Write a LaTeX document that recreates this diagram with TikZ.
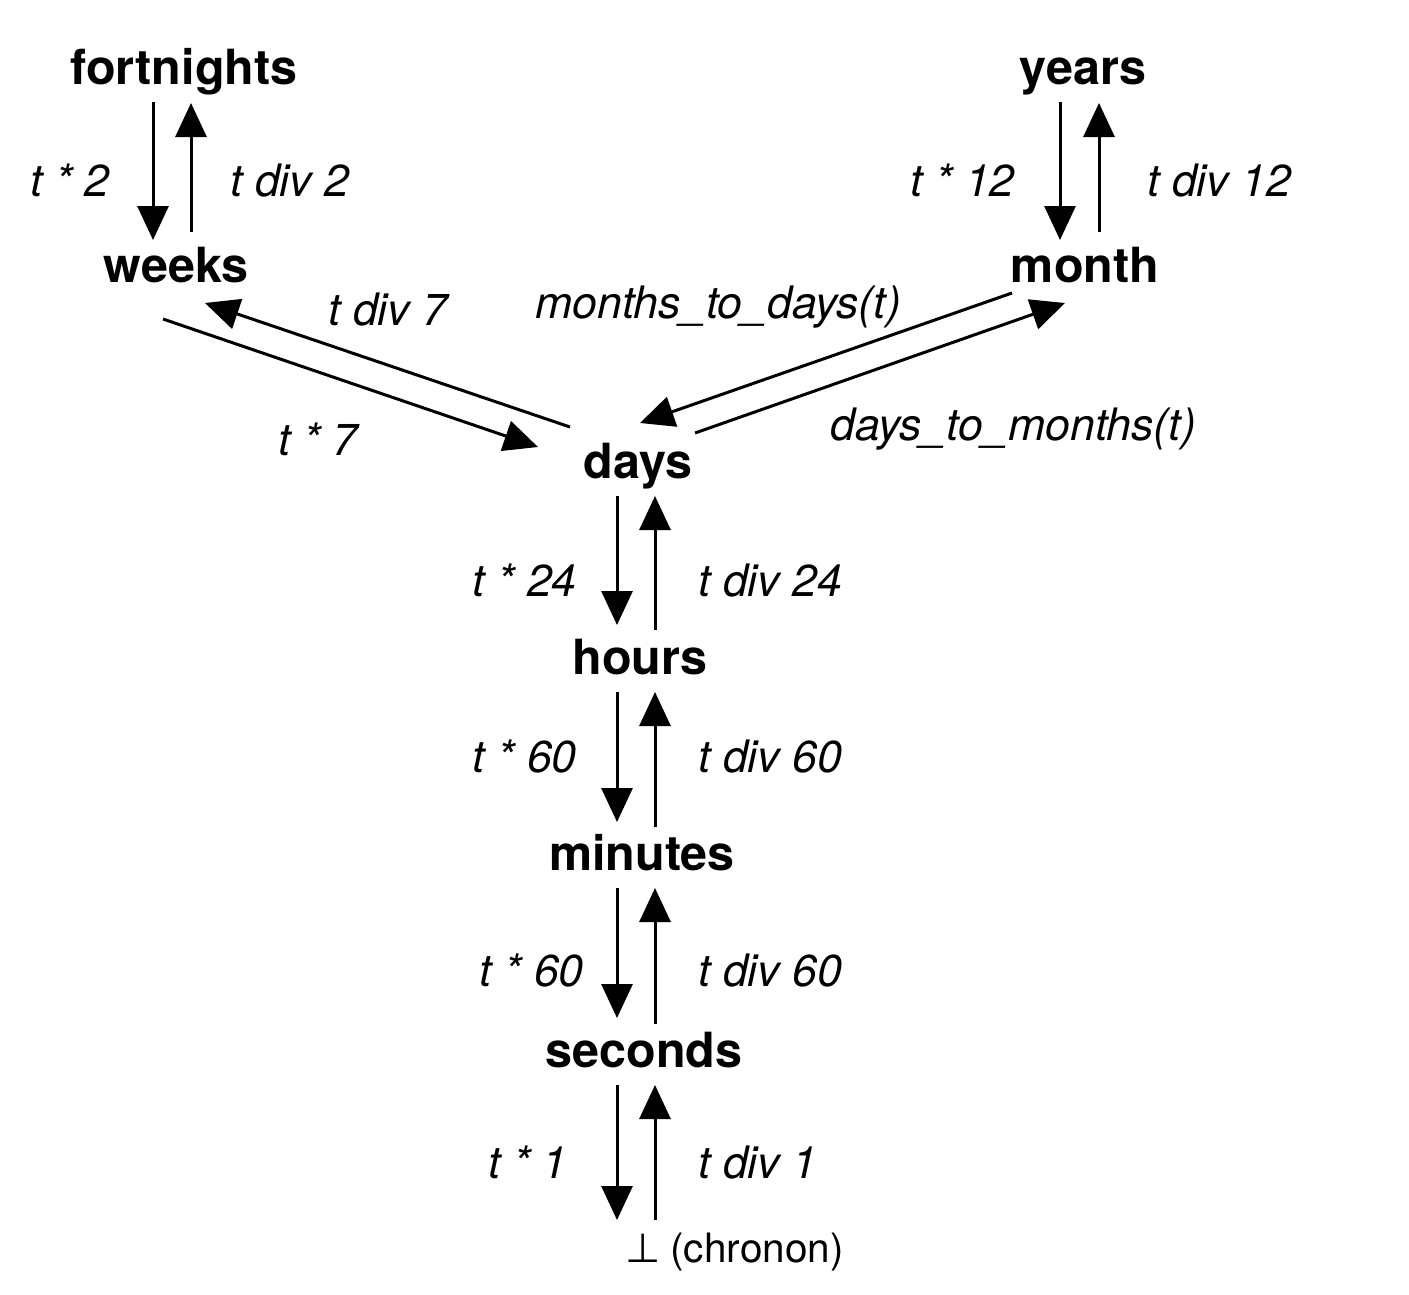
\documentclass[tikz,border=0pt]{standalone}
\usepackage{fontspec}
\setmainfont{TeX Gyre Heros}
\newfontfamily\symfont{DejaVu Sans}
\usetikzlibrary{arrows.meta}
\tikzset{
  unit/.style={inner sep=0pt, anchor=base, font=\fontsize{48.5}{56}\selectfont\bfseries},
  lbl/.style={inner sep=0pt, font=\fontsize{44.7}{52}\selectfont\itshape},
  arr/.style={line width=3pt, -{Triangle[length=34pt,width=31pt]}}
}
\begin{document}
\begin{tikzpicture}[x=1pt,y=-1pt]
\useasboundingbox (0,0) rectangle (1409,1294);
% units
\node[unit] (fortnights) at (184,84) {fortnights};
\node[unit] (years) at (1083,84) {years};
\node[unit] (weeks) at (176,282) {weeks};
\node[unit] (month) at (1085,282) {month};
\node[unit] (days) at (638,478) {days};
\node[unit] (hours) at (640,674) {hours};
\node[unit] (minutes) at (642,870) {minutes};
\node[unit] (seconds) at (644,1067) {seconds};
\node[inner sep=0pt, anchor=base west, font=\fontsize{40.5}{48}\selectfont] (chronon) at (625,1262) {{\symfont ⊥}\hspace{10pt}(chronon)};
% vertical arrows
\draw[arr] ([shift={(-31,18)}]fortnights.base) -- ([shift={(-23,-42)}]weeks.base);
\draw[arr] ([shift={(15,-50)}]weeks.base) -- ([shift={(7,19)}]fortnights.base);
\draw[arr] ([shift={(-23,18)}]years.base) -- ([shift={(-25,-42)}]month.base);
\draw[arr] ([shift={(14,-50)}]month.base) -- ([shift={(16,19)}]years.base);
\draw[arr] ([shift={(-21,18)}]days.base) -- ([shift={(-23,-49)}]hours.base);
\draw[arr] ([shift={(15,-44)}]hours.base) -- ([shift={(17,18)}]days.base);
\draw[arr] ([shift={(-23,18)}]hours.base) -- ([shift={(-25,-48)}]minutes.base);
\draw[arr] ([shift={(13,-43)}]minutes.base) -- ([shift={(15,18)}]hours.base);
\draw[arr] ([shift={(-25,18)}]minutes.base) -- ([shift={(-27,-49)}]seconds.base);
\draw[arr] ([shift={(11,-43)}]seconds.base) -- ([shift={(13,18)}]minutes.base);
\draw[arr] ([shift={(-27,18)}]seconds.base) -- ([shift={(-8,-42)}]chronon.base west);
\draw[arr] ([shift={(30,-42)}]chronon.base west) -- ([shift={(11,18)}]seconds.base);
% diagonal arrows
\draw[arr] ([shift={(-13,37)}]weeks.base) -- ([shift={(-100,-31)}]days.base);
\draw[arr] ([shift={(-68,-51)}]days.base) -- ([shift={(29,21)}]weeks.base);
\draw[arr] ([shift={(-73,11)}]month.base) -- ([shift={(2,-55)}]days.base);
\draw[arr] ([shift={(57,-45)}]days.base) -- ([shift={(-20,21)}]month.base);
% labels
\node[lbl, anchor=base east] (l1) at (110,196) {t * 2};
\node[lbl, anchor=base west] (l2) at (230,196) {t div 2};
\node[lbl, anchor=base east] (l3) at (1015,196) {t * 12};
\node[lbl, anchor=base west] (l4) at (1147,196) {t div 12};
\node[lbl, anchor=base west] (l5) at (328,325) {t div 7};
\node[lbl, anchor=base west] (l6) at (535,318) {months\_to\_days(t)};
\node[lbl, anchor=base east] (l7) at (358,455) {t * 7};
\node[lbl, anchor=base west] (l8) at (830,440) {days\_to\_months(t)};
\node[lbl, anchor=base east] (l9) at (577,596) {t * 24};
\node[lbl, anchor=base west] (l10) at (698,596) {t div 24};
\node[lbl, anchor=base east] (l11) at (577,772) {t * 60};
\node[lbl, anchor=base west] (l12) at (698,772) {t div 60};
\node[lbl, anchor=base east] (l13) at (584,986) {t * 60};
\node[lbl, anchor=base west] (l14) at (698,986) {t div 60};
\node[lbl, anchor=base east] (l15) at (568,1178) {t * 1};
\node[lbl, anchor=base west] (l16) at (698,1178) {t div 1};
\end{tikzpicture}
\end{document}
